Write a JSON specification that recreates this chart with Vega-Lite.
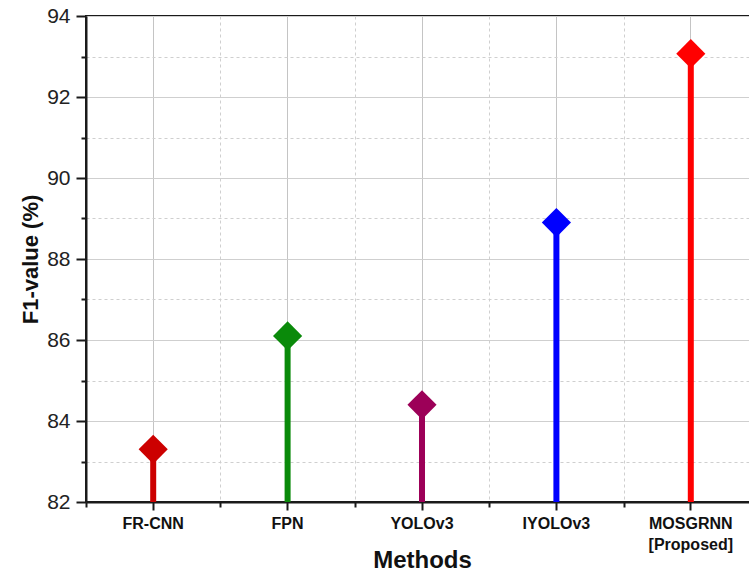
{
  "$schema": "https://vega.github.io/schema/vega-lite/v6.json",
  "width": 672,
  "height": 486,
  "autosize": {"type": "none"},
  "padding": {"left": 86, "top": 16, "right": 0, "bottom": 71},
  "background": "white",
  "config": {
    "font": "Liberation Sans",
    "view": {"stroke": "#1a1a1a", "strokeWidth": 2}
  },
  "data": {
    "values": [
      {"method": "FR-CNN", "f1": 83.3},
      {"method": "FPN", "f1": 86.1},
      {"method": "YOLOv3", "f1": 84.4},
      {"method": "IYOLOv3", "f1": 88.9},
      {"method": "MOSGRNN [Proposed]", "f1": 93.07}
    ]
  },
  "resolve": {"axis": {"x": "independent"}},
  "layer": [
    {
      "mark": {"type": "rule", "strokeWidth": 6},
      "encoding": {
        "x": {
          "field": "method", "type": "nominal", "sort": null,
          "scale": {"type": "band", "paddingInner": 0, "paddingOuter": 0},
          "axis": {
            "orient": "bottom",
            "title": "Methods",
            "titleFont": "Liberation Sans", "titleFontSize": 24, "titleFontWeight": "bold", "titleColor": "#111",
            "titleBaseline": "middle", "titleY": 58,
            "labelFont": "Liberation Sans", "labelFontSize": 16, "labelFontWeight": "bold", "labelColor": "#111",
            "labelAngle": 0, "labelPadding": 5, "labelLineHeight": 21,
            "labelExpr": "split(datum.label, ' ')",
            "domainColor": "#1a1a1a", "domainWidth": 2,
            "tickColor": "#1a1a1a", "tickWidth": 2, "tickSize": 8,
            "grid": true, "gridColor": "#c4c4c4", "gridWidth": 1
          }
        },
        "y": {
          "field": "f1", "type": "quantitative",
          "scale": {"domain": [82, 94], "nice": false, "zero": false},
          "axis": {
            "title": "F1-value (%)",
            "titleFont": "Liberation Sans", "titleFontSize": 22, "titleFontWeight": "bold", "titleColor": "#111",
            "titleX": -56, "titleBaseline": "middle",
            "values": [82, 83, 84, 85, 86, 87, 88, 89, 90, 91, 92, 93, 94],
            "labelExpr": "datum.value % 2 === 0 ? datum.label : ''",
            "labelFont": "Liberation Sans", "labelFontSize": 21, "labelColor": "#222", "labelPadding": 6,
            "domainColor": "#1a1a1a", "domainWidth": 2,
            "tickColor": "#1a1a1a", "tickWidth": 2,
            "tickSize": {"condition": {"test": "datum.value % 2 === 0", "value": 10}, "value": 5},
            "grid": true, "gridColor": "#cfcfcf", "gridWidth": 1,
            "gridDash": {"condition": {"test": "datum.value % 2 === 0", "value": []}, "value": [3, 3]}
          }
        },
        "y2": {"datum": 82},
        "color": {
          "field": "method", "type": "nominal",
          "scale": {
            "domain": ["FR-CNN", "FPN", "YOLOv3", "IYOLOv3", "MOSGRNN [Proposed]"],
            "range": ["#cc0000", "#0a8a0a", "#9c0058", "#0000ff", "#ff0000"]
          },
          "legend": null
        }
      }
    },
    {
      "mark": {"type": "point", "shape": "diamond", "filled": true, "size": 850, "opacity": 1},
      "encoding": {
        "x": {
          "field": "method", "type": "nominal", "sort": null,
          "axis": {
            "orient": "bottom", "tickBand": "extent", "labels": false, "title": null,
            "domain": false, "tickColor": "#1a1a1a", "tickWidth": 2, "tickSize": 5,
            "grid": true, "gridColor": "#cfcfcf", "gridWidth": 1, "gridDash": [3, 3]
          }
        },
        "y": {"field": "f1", "type": "quantitative"},
        "color": {"field": "method", "type": "nominal"}
      }
    }
  ]
}
